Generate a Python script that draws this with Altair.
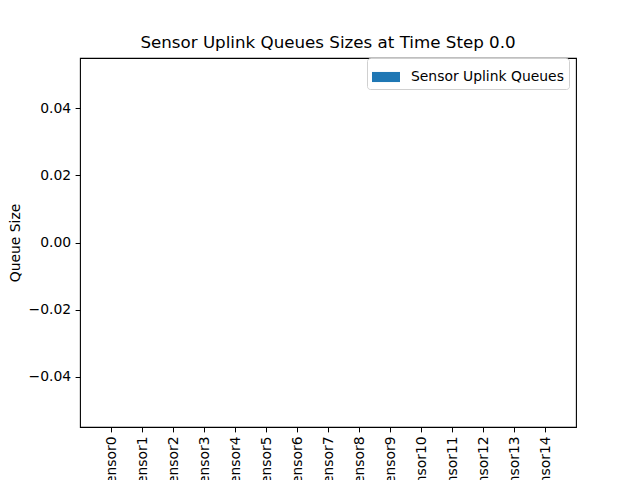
import altair as alt
import pandas as pd

sensors = [f"Sensor{i}" for i in range(15)]
queue_sizes = [0] * 15
series_name = "Sensor Uplink Queues"

df = pd.DataFrame({"sensor": sensors, "queue": queue_sizes, "series": [series_name] * 15})

FONT = "DejaVu Sans"
FS = 13.9

bars = alt.Chart(df).mark_bar(size=24).encode(
    x=alt.X("sensor:N", sort=sensors,
            scale=alt.Scale(type="point", padding=1.14),
            axis=alt.Axis(title=None, labelAngle=270, labelFontSize=FS, labelFont=FONT,
                          labelColor="black", tickColor="black", tickSize=4.9, tickWidth=1,
                          labelPadding=4, domain=False, grid=False, labelLimit=0)),
    y=alt.Y("queue:Q",
            scale=alt.Scale(domain=[-0.055, 0.055], nice=False, zero=False),
            axis=alt.Axis(title="Queue Size", values=[-0.04, -0.02, 0, 0.02, 0.04], format=".2f",
                          labelFontSize=FS, labelFont=FONT, labelColor="black",
                          tickColor="black", tickSize=4.9, tickWidth=1, labelPadding=4.5,
                          domain=False, grid=False, titleFont=FONT, titleFontSize=FS,
                          titleFontWeight="normal", titleColor="black", titlePadding=6)),
    color=alt.Color("series:N", scale=alt.Scale(range=["#1f77b4"]),
                    legend=alt.Legend(title=None, orient="none", legendX=287, legendY=0,
                                      symbolType="M-1,-0.36L1,-0.36L1,0.36L-1,0.36Z",
                                      symbolSize=784, symbolStrokeWidth=0,
                                      labelFont=FONT, labelFontSize=FS, labelColor="black",
                                      labelOffset=11, padding=5, strokeColor="#d0d0d0",
                                      fillColor="white", cornerRadius=3)),
)

chart = bars.properties(
    width=496, height=369,
    background="white",
    title=alt.TitleParams("Sensor Uplink Queues Sizes at Time Step 0.0", font=FONT,
                          fontSize=16.7, fontWeight="normal", color="black", offset=6),
    autosize=alt.AutoSizeParams(type="none"),
    padding={"left": 72, "top": 50, "right": 56, "bottom": 53},
).configure_view(stroke="black", strokeWidth=1.1)

chart.save("out.html", embed_options={"renderer": "svg", "actions": False})
